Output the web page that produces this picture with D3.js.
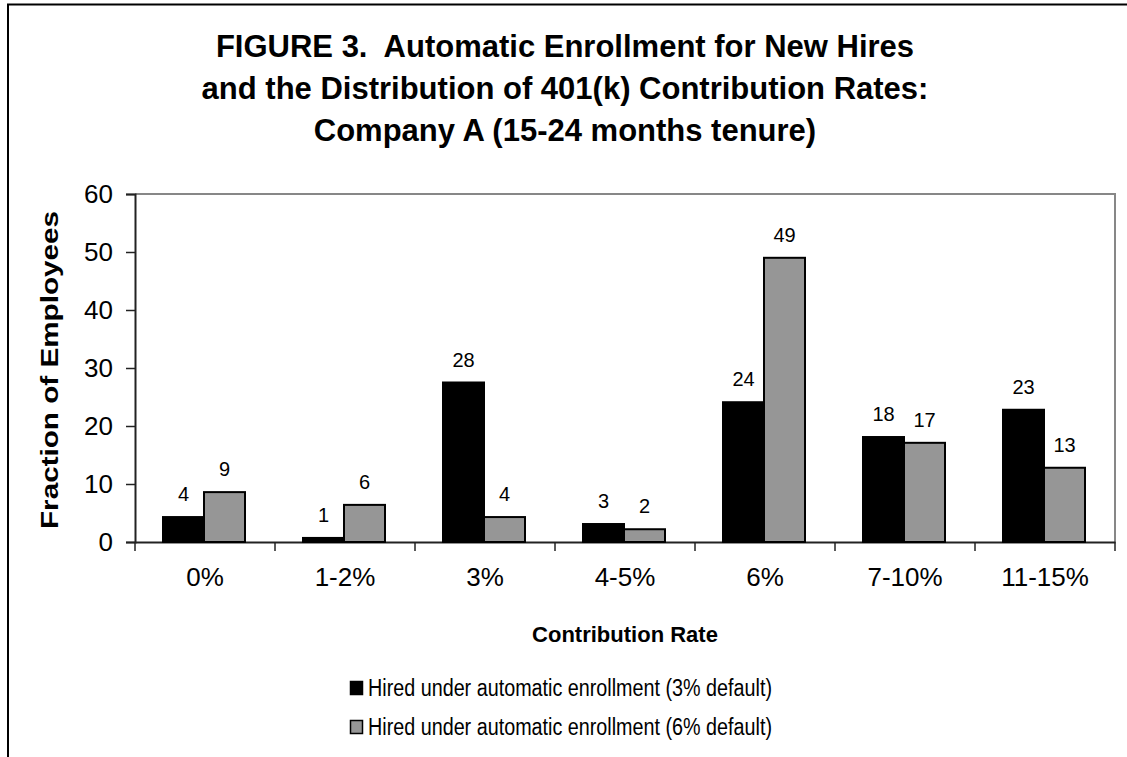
<!DOCTYPE html>
<html>
<head>
    <meta charset="UTF-8">
    <title>Figure 3</title>
</head>
<style>
    body { margin: 0; background: #fff; }
    svg text { font-family: "Liberation Sans", Arial, sans-serif; fill: #000; }
    .title { font-size: 31px; font-weight: bold; white-space: pre; }
    .axis text { font-size: 26px; }
    .axis-title { font-weight: bold; }
    .value { font-size: 20px; }
</style>
<body>
<svg width="1127" height="757"></svg>
<script src="https://d3js.org/d3.v7.min.js"></script>
<script>

    var categories = ["0%", "1-2%", "3%", "4-5%", "6%", "7-10%", "11-15%"];
    var seriesNames = ["Hired under automatic enrollment (3% default)",
                       "Hired under automatic enrollment (6% default)"];
    var default3 = [4.3, 0.7, 27.5, 3.1, 24.1, 18.1, 22.8];
    var default6 = [8.6, 6.4, 4.3, 2.2, 49, 17.1, 12.8];
    var yTicks = [0, 10, 20, 30, 40, 50, 60];
    var titleLines = ["FIGURE 3.  Automatic Enrollment for New Hires",
                      "and the Distribution of 401(k) Contribution Rates:",
                      "Company A (15-24 months tenure)"];

    var svg = d3.select("svg");
    var colors = ["#000000", "#969696"];

    // outer frame (cut off at right and bottom)
    svg.append("path")
        .attr("d", "M8,760 V4.5 H1130")
        .attr("fill", "none")
        .attr("stroke", "#000")
        .attr("stroke-width", 2);

    svg.append("text")
        .attr("class", "title")
        .attr("text-anchor", "middle")
        .selectAll("tspan")
        .data(titleLines)
        .enter().append("tspan")
        .attr("x", 565)
        .attr("y", function(d, i) { return 57 + i * 42; })
        .text(function(d) { return d; });

    var plotLeft = 135, plotRight = 1115, plotTop = 194, plotBottom = 542;

    var x = d3.scaleBand().domain(categories).range([plotLeft, plotRight]);
    var x1 = d3.scaleBand().domain([0, 1]).range([0, 82]);
    var y = d3.scaleLinear().domain([0, 60]).range([plotBottom, plotTop]);

    // plot area top and right border
    svg.append("path")
        .attr("d", "M" + plotLeft + "," + plotTop + " H" + plotRight + " V" + plotBottom)
        .attr("fill", "none")
        .attr("stroke", "#878787")
        .attr("stroke-width", 2);

    var yAxis = svg.append("g")
        .attr("class", "axis")
        .attr("transform", "translate(" + plotLeft + ",0)")
        .call(d3.axisLeft(y).tickValues(yTicks).tickSize(9).tickPadding(13));
    yAxis.select(".domain").attr("stroke", "#222").attr("stroke-width", 2);
    yAxis.selectAll(".tick line").attr("stroke", "#222").attr("stroke-width", 1.5);
    yAxis.selectAll("text").attr("fill", "#000").attr("font-family", null);

    var xAxis = svg.append("g")
        .attr("class", "axis")
        .attr("transform", "translate(0," + plotBottom + ")")
        .call(d3.axisBottom(x).tickSize(0).tickPadding(26));
    xAxis.select(".domain").attr("stroke", "#222").attr("stroke-width", 2);
    xAxis.selectAll("text").attr("fill", "#000").attr("font-family", null);
    xAxis.selectAll(".sep")
        .data(categories.concat([null]))
        .enter().append("line")
        .attr("x1", function(d, i) { return plotLeft + i * x.bandwidth(); })
        .attr("x2", function(d, i) { return plotLeft + i * x.bandwidth(); })
        .attr("y1", 0).attr("y2", 9)
        .attr("stroke", "#222").attr("stroke-width", 1.5);

    var rows = categories.map(function(c, i) {
        return { cat: c, vals: [default3[i], default6[i]] };
    });

    var groups = svg.append("g").selectAll("g")
        .data(rows)
        .enter().append("g")
        .attr("transform", function(d) { return "translate(" + (x(d.cat) + 28) + ",0)"; });

    groups.selectAll("rect")
        .data(function(d) { return d.vals; })
        .enter().append("rect")
        .attr("x", function(d, i) { return x1(i); })
        .attr("width", x1.bandwidth())
        .attr("y", function(d) { return y(d); })
        .attr("height", function(d) { return plotBottom - y(d); })
        .attr("fill", function(d, i) { return colors[i]; })
        .attr("stroke", "#000")
        .attr("stroke-width", 2);

    groups.selectAll("text")
        .data(function(d) { return d.vals; })
        .enter().append("text")
        .attr("class", "value")
        .attr("text-anchor", "middle")
        .attr("x", function(d, i) { return x1(i) + x1.bandwidth() / 2; })
        .attr("y", function(d) { return y(d) - 16; })
        .text(function(d) { return Math.round(d); });

    svg.append("text")
        .attr("class", "axis-title")
        .attr("font-size", 22)
        .attr("text-anchor", "middle")
        .attr("x", 625).attr("y", 642)
        .text("Contribution Rate");

    svg.append("text")
        .attr("class", "axis-title")
        .attr("font-size", 24)
        .attr("text-anchor", "middle")
        .attr("textLength", 318)
        .attr("lengthAdjust", "spacingAndGlyphs")
        .attr("transform", "translate(58,370) rotate(-90)")
        .text("Fraction of Employees");

    var legend = svg.append("g").selectAll("g")
        .data(seriesNames)
        .enter().append("g")
        .attr("transform", function(d, i) { return "translate(350," + (681 + i * 39) + ")"; });

    legend.append("rect")
        .attr("x", 0.5).attr("y", 0.5)
        .attr("width", 12).attr("height", 13)
        .attr("fill", function(d, i) { return colors[i]; })
        .attr("stroke", "#000")
        .attr("stroke-width", 1.5);

    legend.append("text")
        .attr("x", 18).attr("y", 15)
        .attr("font-size", 23)
        .attr("textLength", 404)
        .attr("lengthAdjust", "spacingAndGlyphs")
        .text(function(d) { return d; });

</script>
</body>
</html>
